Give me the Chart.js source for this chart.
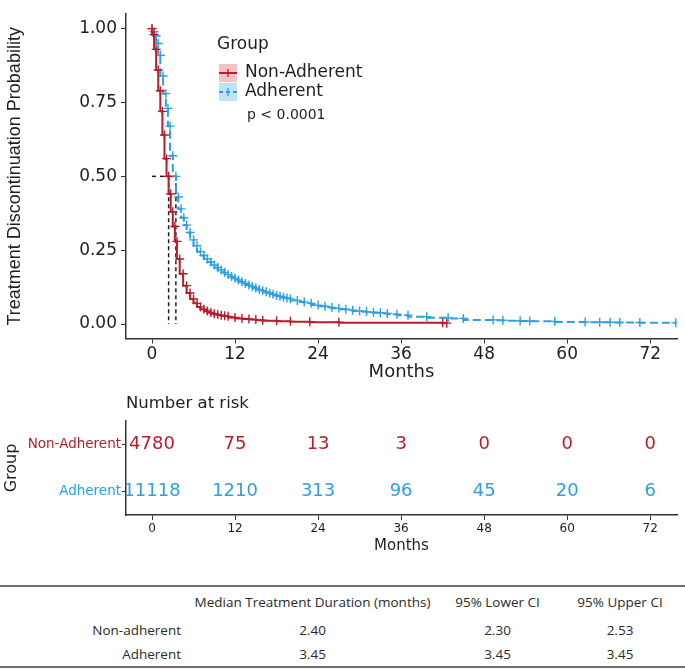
<!DOCTYPE html>
<html lang="en">
<head>
  <meta charset="UTF-8" />
  <title>Treatment Discontinuation - Kaplan-Meier</title>
  <style>
    body {
      margin: 0;
      padding: 0;
      background: white;
      font-family: "DejaVu Sans", sans-serif;
    }
    #page { width: 685px; height: 669px; position: relative; overflow: hidden; }
    canvas { display: block; }
    #summary {
      position: absolute;
      left: 0;
      top: 585px;
      width: 685px;
      border-collapse: collapse;
      font-family: "Open Sans", sans-serif;
      font-size: 13.5px;
      color: #2a2a2a;
      border-top: 2px solid #6e6e6e;
      border-bottom: 2px solid #6e6e6e;
    }
    #summary th, #summary td { font-weight: normal; padding: 0; }
    #summary thead tr { height: 31px; }
    #summary tbody tr { height: 25px; }
    #summary .lab { text-align: right; padding-right: 4px; }
    #summary .num { text-align: center; }
  </style>
  <script src="https://cdn.jsdelivr.net/npm/chart.js"></script>
</head>
<body>
<div id="page">
  <canvas id="kmChart" width="685" height="385"></canvas>
  <canvas id="riskChart" width="685" height="170"></canvas>
  <table id="summary">
    <colgroup>
      <col style="width:185px"><col style="width:255px"><col style="width:115px"><col style="width:130px">
    </colgroup>
    <thead>
      <tr><th></th><th class="num">Median Treatment Duration (months)</th><th class="num">95% Lower CI</th><th class="num">95% Upper CI</th></tr>
    </thead>
    <tbody id="summaryBody"></tbody>
  </table>
</div>

<script>
  // ---- data ----
  const groups = ['Non-Adherent', 'Adherent'];
  const monthTicks = [0, 12, 24, 36, 48, 60, 72];
  const probTicks = [0, 0.25, 0.5, 0.75, 1];

  const nonAdhTime = [0, 0.3, 0.6, 0.9, 1.2, 1.5, 1.8, 2.1, 2.4, 2.7, 3.0, 3.3, 3.6, 4.0, 4.5, 5.0, 5.5, 6.0, 6.5, 7.0,
                      7.5, 8.0, 8.5, 9, 9.5, 10, 10.5, 11, 12, 13, 14, 15, 16, 18, 20, 22.8, 27, 42, 42.6];
  const nonAdhSurv = [1.00, 0.98, 0.93, 0.86, 0.79, 0.72, 0.64, 0.56, 0.50, 0.44, 0.38, 0.33, 0.28, 0.22, 0.17, 0.13, 0.105, 0.085, 0.07, 0.058,
                      0.05, 0.044, 0.039, 0.035, 0.032, 0.030, 0.028, 0.026, 0.022, 0.019, 0.017, 0.015, 0.013, 0.011, 0.009, 0.008, 0.006, 0.004, 0.003];

  const adhTime = [0, 0.3, 0.6, 0.9, 1.2, 1.6, 2.0, 2.3, 2.6, 3.0, 3.45, 3.8, 4.2, 4.6, 5.0, 5.5, 6.0, 6.5, 7, 7.5,
                   8, 8.5, 9, 9.5, 10, 10.5, 11, 11.5, 12, 12.5, 13, 13.5, 14, 14.5, 15, 15.5, 16, 16.5, 17, 17.5,
                   18, 18.5, 19, 19.5, 20, 21, 22, 23, 24, 25, 26, 27, 28, 29, 30, 31, 32, 33, 34, 35.4,
                   37, 39.7, 42.8, 45, 49.3, 50.7, 53.2, 54.6, 58.2, 62.6, 64.7, 66.2, 67.6, 70.5, 75.7];
  const adhSurv = [1.00, 0.99, 0.975, 0.95, 0.91, 0.84, 0.78, 0.73, 0.67, 0.57, 0.50, 0.43, 0.39, 0.36, 0.335, 0.31, 0.285, 0.265, 0.245, 0.232,
                   0.22, 0.21, 0.20, 0.191, 0.183, 0.175, 0.168, 0.161, 0.155, 0.149, 0.143, 0.137, 0.132, 0.127, 0.122, 0.117, 0.113, 0.109, 0.105, 0.101,
                   0.097, 0.094, 0.091, 0.088, 0.085, 0.080, 0.075, 0.070, 0.064, 0.060, 0.056, 0.053, 0.050, 0.047, 0.044, 0.042, 0.040, 0.038, 0.036, 0.033,
                   0.030, 0.025, 0.021, 0.019, 0.014, 0.013, 0.011, 0.010, 0.009, 0.007, 0.006, 0.006, 0.005, 0.005, 0.004];

  const medianTimes = [2.40, 3.45];
  const medianLevel = 0.5;
  const pValueText = 'p < 0.0001';

  const riskTimes = [0, 12, 24, 36, 48, 60, 72];
  const riskNonAdh = [4780, 75, 13, 3, 0, 0, 0];
  const riskAdh = [11118, 1210, 313, 96, 45, 20, 6];

  const tableRows = ['Non-adherent', 'Adherent'];
  const medianDur = ['2.40', '3.45'];
  const lowerCI = ['2.30', '3.45'];
  const upperCI = ['2.53', '3.45'];

  // ---- styling ----
  const RED = '#B71E2B';
  const BLUE = '#2E9FDF';
  const INK = '#1e1e1e';
  const xMin = -3.76, xMax = 75.87;

  Chart.defaults.font.family = '"DejaVu Sans", sans-serif';
  Chart.defaults.color = INK;

  const toXY = (ts, ss) => ts.map((t, i) => ({ x: t, y: ss[i] }));

  const kmDatasets = [
    {
      label: groups[0],
      data: toXY(nonAdhTime, nonAdhSurv),
      borderColor: RED, backgroundColor: RED,
      borderWidth: 2, stepped: 'after',
      pointStyle: 'cross', pointRadius: 4.5, pointBorderWidth: 1.4, pointBorderColor: RED
    },
    {
      label: groups[1],
      data: toXY(adhTime, adhSurv),
      borderColor: BLUE, backgroundColor: BLUE,
      borderWidth: 2, stepped: 'after', borderDash: [8, 4],
      pointStyle: 'cross', pointRadius: 4.5, pointBorderWidth: 1.4, pointBorderColor: BLUE
    },
    {
      label: 'median',
      data: [{ x: 0, y: medianLevel }, { x: medianTimes[1], y: medianLevel }],
      borderColor: INK, borderWidth: 1.5, borderDash: [4, 4], pointRadius: 0
    }
  ];
  medianTimes.forEach(m => {
    kmDatasets.push({
      label: 'median',
      data: [{ x: m, y: medianLevel }, { x: m, y: 0 }],
      borderColor: INK, borderWidth: 1.5, borderDash: [4, 3], pointRadius: 0
    });
  });

  // legend drawn inside the panel, ggplot style
  const kmLegend = {
    id: 'kmLegend',
    afterDraw(chart) {
      const c = chart.ctx;
      const x0 = chart.chartArea.left + 91;
      c.save();
      c.textBaseline = 'middle';
      c.fillStyle = INK;
      c.font = '17px "DejaVu Sans"';
      c.fillText('Group', x0, 45);
      const keys = [[RED, '#F0C4C6', 73, []], [BLUE, '#BFE2F6', 92, [4, 3]]];
      keys.forEach(([col, fill, y, dash], i) => {
        c.fillStyle = fill;
        c.fillRect(x0 + 2, y - 9, 18, 18);
        c.strokeStyle = col;
        c.lineWidth = 2;
        c.setLineDash(dash);
        c.beginPath(); c.moveTo(x0 + 2, y); c.lineTo(x0 + 20, y); c.stroke();
        c.setLineDash([]);
        c.lineWidth = 1.3;
        c.beginPath(); c.moveTo(x0 + 11, y - 4); c.lineTo(x0 + 11, y + 4); c.stroke();
        c.fillStyle = INK;
        c.font = '17px "DejaVu Sans"';
        c.fillText(groups[i], x0 + 28, y);
      });
      c.font = '14px "DejaVu Sans"';
      c.fillText(pValueText, x0 + 30, 115);
      c.restore();
    }
  };

  new Chart(document.getElementById('kmChart'), {
    type: 'line',
    data: { datasets: kmDatasets },
    options: {
      responsive: false,
      animation: false,
      devicePixelRatio: 1,
      layout: { padding: { left: 0, right: 8, top: 2, bottom: 0 } },
      plugins: { legend: { display: false }, tooltip: { enabled: false } },
      scales: {
        x: {
          type: 'linear', min: xMin, max: xMax,
          afterBuildTicks: s => { s.ticks = monthTicks.map(v => ({ value: v })); },
          afterFit: s => { s.height = 46.5; },
          grid: { drawOnChartArea: false, drawTicks: true, tickLength: 5, tickColor: '#333' },
          border: { display: true, color: '#333', width: 1.5 },
          ticks: { font: { size: 17 }, color: INK, padding: 1, maxRotation: 0 },
          title: { display: true, text: 'Months', font: { size: 18 }, color: INK, padding: { top: 0, bottom: 2 } }
        },
        y: {
          type: 'linear', min: -0.049, max: 1.049,
          afterBuildTicks: s => { s.ticks = probTicks.map(v => ({ value: v })); },
          afterFit: s => { s.width = 126; },
          grid: { drawOnChartArea: false, drawTicks: true, tickLength: 5, tickColor: '#333' },
          border: { display: true, color: '#333', width: 1.5 },
          ticks: { font: { size: 17 }, color: INK, padding: 4, callback: v => v.toFixed(2) },
          title: { display: true, text: 'Treatment Discontinuation Probability',
                   font: { family: '"Liberation Sans"', size: 18 }, color: INK, padding: { top: 4, bottom: 0 } }
        }
      }
    },
    plugins: [kmLegend]
  });

  // ---- number at risk ----
  const riskColors = [RED, BLUE];
  const riskText = {
    id: 'riskText',
    afterDatasetsDraw(chart) {
      const c = chart.ctx;
      c.save();
      c.textAlign = 'center';
      c.textBaseline = 'middle';
      c.font = '18px "DejaVu Sans"';
      chart.data.datasets.forEach((ds, di) => {
        c.fillStyle = riskColors[di];
        chart.getDatasetMeta(di).data.forEach((pt, i) => {
          c.fillText(String(ds.counts[i]), pt.x, pt.y);
        });
      });
      c.textAlign = 'left';
      c.fillStyle = INK;
      c.font = '16.5px "DejaVu Sans"';
      c.fillText('Number at risk', chart.chartArea.left, 19);
      c.restore();
    }
  };

  new Chart(document.getElementById('riskChart'), {
    type: 'scatter',
    data: {
      datasets: [
        { data: riskTimes.map(t => ({ x: t, y: groups[0] })), counts: riskNonAdh, pointRadius: 0 },
        { data: riskTimes.map(t => ({ x: t, y: groups[1] })), counts: riskAdh, pointRadius: 0 }
      ]
    },
    options: {
      responsive: false,
      animation: false,
      devicePixelRatio: 1,
      layout: { padding: { left: 0, right: 8, top: 36, bottom: 0 } },
      plugins: { legend: { display: false }, tooltip: { enabled: false } },
      scales: {
        x: {
          type: 'linear', min: xMin, max: xMax,
          afterBuildTicks: s => { s.ticks = riskTimes.map(v => ({ value: v })); },
          afterFit: s => { s.height = 40; },
          grid: { drawOnChartArea: false, drawTicks: true, tickLength: 5, tickColor: '#333' },
          border: { display: true, color: '#333', width: 1.5 },
          ticks: { font: { size: 12 }, color: INK, padding: 2, maxRotation: 0 },
          title: { display: true, text: 'Months', font: { size: 15 }, color: INK, padding: { top: 0, bottom: 0 } }
        },
        y: {
          type: 'category', labels: groups, offset: true,
          afterFit: s => { s.width = 126; },
          grid: { drawOnChartArea: false, drawTicks: true, tickLength: 4, tickColor: '#333', offset: false },
          border: { display: true, color: '#333', width: 1.5 },
          ticks: { font: { size: 13.5 }, padding: 1, color: ctx => riskColors[ctx.index] },
          title: { display: true, text: 'Group', font: { size: 16 }, color: INK, padding: { top: 2, bottom: 0 } }
        }
      }
    },
    plugins: [riskText]
  });

  // ---- summary table ----
  const body = document.getElementById('summaryBody');
  tableRows.forEach((name, i) => {
    const tr = document.createElement('tr');
    tr.innerHTML = `<td class="lab">${name}</td><td class="num">${medianDur[i]}</td>` +
                   `<td class="num">${lowerCI[i]}</td><td class="num">${upperCI[i]}</td>`;
    body.appendChild(tr);
  });
</script>
</body>
</html>
